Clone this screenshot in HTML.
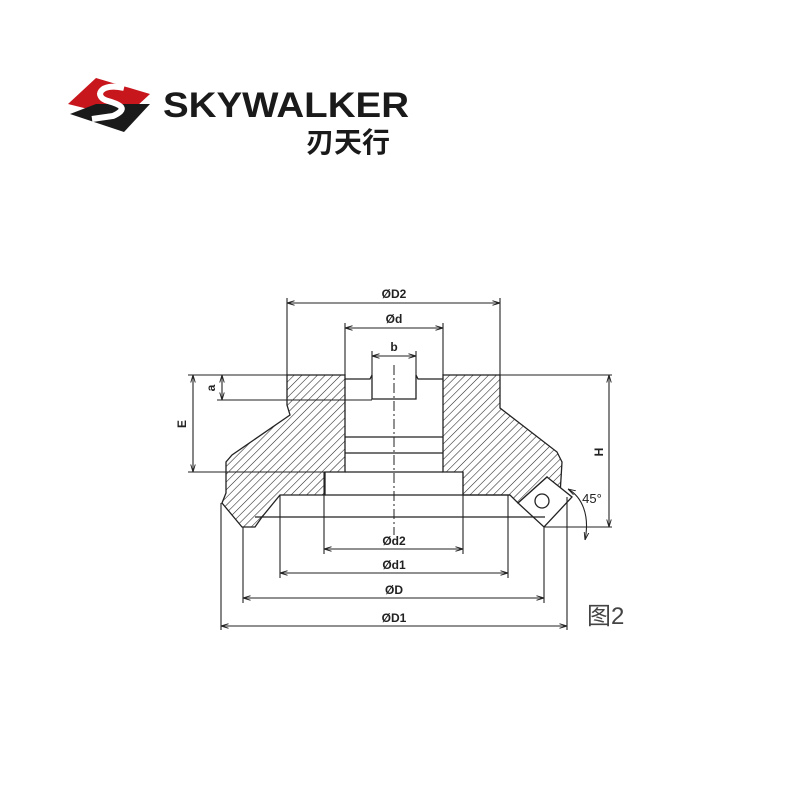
<!DOCTYPE html>
<html><head><meta charset="utf-8"><style>
body{margin:0;background:#fff;width:800px;height:800px;overflow:hidden}
svg{display:block}
</style></head><body>
<svg width="800" height="800" viewBox="0 0 800 800" xmlns="http://www.w3.org/2000/svg">
<defs>
<pattern id="h" patternUnits="userSpaceOnUse" width="5.5" height="5.5" patternTransform="rotate(45)">
<line x1="0" y1="0" x2="0" y2="5.5" stroke="#222" stroke-width="1.1"/>
</pattern>
<marker id="a" viewBox="0 0 10 10" refX="10" refY="5" markerWidth="7" markerHeight="7" orient="auto-start-reverse"><path d="M0,2 L10,5 L0,8" fill="none" stroke="#222" stroke-width="1.2"/></marker>
</defs>
<!-- logo -->
<polygon points="68,104 96,78 150,94 124,118" fill="#c8161d"/>
<polygon points="70,114 96,104 150,104 124,132" fill="#1a1a1a"/>
<path d="M124,88 C100,82 93,97 108,101 C122,105 128,109 113,116 L92,119" fill="none" stroke="#fff" stroke-width="6"/>
<text x="163" y="117" font-family="Liberation Sans, sans-serif" font-weight="bold" font-size="35" fill="#1a1a1a" textLength="246" lengthAdjust="spacingAndGlyphs">SKYWALKER</text>
<text x="306" y="152" font-family="Liberation Sans, 'Noto Sans CJK SC', sans-serif" font-weight="bold" font-size="28" fill="#1a1a1a">刃天行</text>

<g fill="none" stroke="#222" stroke-width="1.3">
<path d="M287,375 L345,375 L345,472 L325,472 L325,495 L280,495 L262,517 L255,527 L242,527 L222,503 L226,493 L226,462 L232,455 L290,415 L287,405 Z" fill="url(#h)"/>
<path d="M443,375 L500,375 L500,408 L557,452 L562,462 L560,495 L547,477 L518,503 L510,495 L463,495 L463,472 L443,472 Z" fill="url(#h)"/>
<polygon points="547,477 572,497 544,527 518,503" fill="#fff"/>
<circle cx="542" cy="501" r="7"/>
<line x1="345" y1="437" x2="443" y2="437"/>
<line x1="345" y1="453" x2="443" y2="453"/>
<line x1="345" y1="472" x2="443" y2="472"/>
<line x1="325" y1="495" x2="510" y2="495"/>
<line x1="255" y1="517" x2="545" y2="517"/>
<path d="M345,379 L370,379 L372,375 L372,399 L416,399 L416,375 L418,379 L443,379"/>
<line x1="394" y1="365" x2="394" y2="535" stroke-dasharray="10,3,2,3" stroke-width="1"/>
</g>
<g fill="none" stroke="#222" stroke-width="1.1">
<line x1="287" y1="298" x2="287" y2="375"/>
<line x1="500" y1="298" x2="500" y2="375"/>
<line x1="345" y1="323" x2="345" y2="375"/>
<line x1="443" y1="323" x2="443" y2="375"/>
<line x1="372" y1="351" x2="372" y2="375"/>
<line x1="416" y1="351" x2="416" y2="375"/>
<line x1="188" y1="375" x2="287" y2="375"/>
<line x1="500" y1="375" x2="612" y2="375"/>
<line x1="217" y1="400" x2="372" y2="400"/>
<line x1="188" y1="472" x2="325" y2="472"/>
<line x1="544" y1="527" x2="612" y2="527"/>
<line x1="324" y1="472" x2="324" y2="554"/>
<line x1="463" y1="472" x2="463" y2="554"/>
<line x1="280" y1="495" x2="280" y2="578"/>
<line x1="508" y1="495" x2="508" y2="578"/>
<line x1="243" y1="527" x2="243" y2="603"/>
<line x1="544" y1="527" x2="544" y2="603"/>
<line x1="221" y1="503" x2="221" y2="630"/>
<line x1="567" y1="497" x2="567" y2="630"/>
<line x1="287" y1="303" x2="500" y2="303" marker-start="url(#a)" marker-end="url(#a)"/>
<line x1="345" y1="328" x2="443" y2="328" marker-start="url(#a)" marker-end="url(#a)"/>
<line x1="372" y1="356" x2="416" y2="356" marker-start="url(#a)" marker-end="url(#a)"/>
<line x1="193" y1="375" x2="193" y2="472" marker-start="url(#a)" marker-end="url(#a)"/>
<line x1="222" y1="375" x2="222" y2="400" marker-start="url(#a)" marker-end="url(#a)"/>
<line x1="609" y1="375" x2="609" y2="527" marker-start="url(#a)" marker-end="url(#a)"/>
<line x1="324" y1="549" x2="463" y2="549" marker-start="url(#a)" marker-end="url(#a)"/>
<line x1="280" y1="573" x2="508" y2="573" marker-start="url(#a)" marker-end="url(#a)"/>
<line x1="243" y1="598" x2="544" y2="598" marker-start="url(#a)" marker-end="url(#a)"/>
<line x1="221" y1="626" x2="567" y2="626" marker-start="url(#a)" marker-end="url(#a)"/>
<path d="M568,489 C582,497 590,515 585,540" marker-start="url(#a)" marker-end="url(#a)"/>
</g>
<g font-family="Liberation Sans, sans-serif" font-size="12" font-weight="bold" fill="#222" text-anchor="middle">
<text x="394" y="298">ØD2</text>
<text x="394" y="323">Ød</text>
<text x="394" y="351">b</text>
<text x="394" y="545">Ød2</text>
<text x="394" y="569">Ød1</text>
<text x="394" y="594">ØD</text>
<text x="394" y="622">ØD1</text>
<text x="592" y="503" font-weight="normal" font-size="13">45°</text>
<text transform="translate(186,424) rotate(-90)">E</text>
<text transform="translate(215,388) rotate(-90)">a</text>
<text transform="translate(603,452) rotate(-90)">H</text>
</g>
<text x="587" y="624" font-family="Liberation Sans, 'Noto Sans CJK SC', sans-serif" font-size="24" fill="#444">图2</text>
</svg>
</body></html>
